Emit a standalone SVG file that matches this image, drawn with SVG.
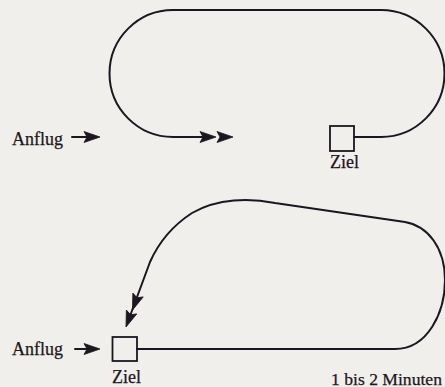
<svg xmlns="http://www.w3.org/2000/svg" xmlns:xlink="http://www.w3.org/1999/xlink" width="445" height="387" viewBox="0 0 445 387">
<style>
.ln{fill:none;stroke:#1c1620;stroke-width:2;stroke-linecap:round;stroke-linejoin:round}
.bx{fill:none;stroke:#1c1620;stroke-width:1.8}
.ah{fill:#1c1620;stroke:#1c1620;stroke-width:0.8;stroke-linejoin:round}
.t{font-family:"Liberation Serif","Times New Roman",serif;font-size:18px;fill:#1c1620;stroke:#1c1620;stroke-width:0.25}
</style>
<defs>
<path id="ah" d="M0 0 L-16 -5.5 L-13 0 L-16 5.5 Z"/>
</defs>
<rect width="445" height="387" fill="#f0efeb"/>
<g id="connectors">
<path class="ln" d="M203 137 L173 137 A63.5 63.5 0 0 1 173 10 L381 10 A63.5 63.5 0 0 1 381 137 L354 137"/>
<use href="#ah" class="ah" transform="translate(216,137)"/>
<use href="#ah" class="ah" transform="translate(233,137)"/>
<path class="ln" d="M72 137 L90 137"/>
<use href="#ah" class="ah" transform="translate(100,137)"/>
<path class="ln" d="M137 349 L395 349 C428 349 445 312 445 280 C445 248 428 226 405 222 L275 203 C250 198 218 198 192 213 C172 226 158 244 150 262 L130 316"/>
<use href="#ah" class="ah" transform="translate(132.5,310) rotate(110.3)"/>
<use href="#ah" class="ah" transform="translate(126,327) rotate(110.3)"/>
<path class="ln" d="M75 349 L90 349"/>
<use href="#ah" class="ah" transform="translate(100,349)"/>
</g>
<g id="anflug-top"><text class="t" x="12" y="144.5">Anflug</text></g>
<g id="ziel-top">
<rect class="bx" x="330" y="126" width="24" height="25"/>
<text class="t" x="330" y="168">Ziel</text>
</g>
<g id="anflug-bottom"><text class="t" x="12" y="354.5">Anflug</text></g>
<g id="ziel-bottom">
<rect class="bx" x="112.5" y="337" width="24.5" height="24"/>
<text class="t" x="112" y="383">Ziel</text>
</g>
<g id="dauer"><text class="t" x="331" y="384.5" style="font-size:17.6px">1 bis 2 Minuten</text></g>
</svg>
